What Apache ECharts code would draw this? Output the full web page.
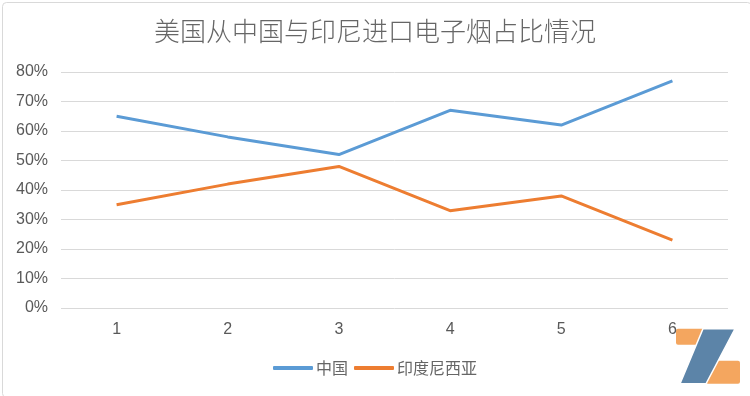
<!DOCTYPE html>
<html><head><meta charset="utf-8">
<script src="https://cdn.jsdelivr.net/npm/echarts@6/dist/echarts.min.js"></script>
<style>html,body{margin:0;padding:0;background:#fff}#c{width:750px;height:396px}</style>
</head><body><div id="c"></div>
<script>
var categories = ['1','2','3','4','5','6'];
var chinaValues = [65, 58, 52, 67, 62, 77];
var indonesiaValues = [35, 42, 48, 33, 38, 23];
var seriesNames = ['中国', '印度尼西亚'];
var titleText = '美国从中国与印尼进口电子烟占比情况';

var chart = echarts.init(document.getElementById('c'));
var font = '"Noto Sans CJK SC", "Helvetica", "Liberation Sans", sans-serif';
var numFont = '"Liberation Sans", Helvetica, Arial, sans-serif';
chart.setOption({
  backgroundColor: '#fff',
  animation: false,
  title: {
    text: titleText, left: 'center', top: 13,
    textStyle: {fontSize: 26, fontWeight: 300, color: '#666666', fontFamily: font}
  },
  legend: {
    bottom: 15, left: 'center', itemWidth: 40, itemHeight: 4, itemGap: 6,
    icon: 'roundRect',
    textStyle: {fontSize: 16, color: '#666666', fontFamily: font, padding: [0, 0, 0, -2]},
    data: seriesNames
  },
  grid: {left: 61, right: 22, top: 72, bottom: 88},
  xAxis: {
    type: 'category', data: categories, boundaryGap: true,
    axisLine: {show: false}, axisTick: {show: false},
    axisLabel: {fontSize: 16, color: '#595959', margin: 14, fontFamily: numFont}
  },
  yAxis: {
    type: 'value', min: 0, max: 80, interval: 10,
    axisLine: {show: false}, axisTick: {show: false},
    axisLabel: {formatter: '{value}%', fontSize: 16, color: '#595959', margin: 13, fontFamily: numFont},
    splitLine: {lineStyle: {color: '#d9d9d9', width: 1}}
  },
  series: [
    {name: seriesNames[0], type: 'line', data: chinaValues, symbol: 'none',
     lineStyle: {width: 3, color: '#5B9BD5'}, itemStyle: {color: '#5B9BD5'}},
    {name: seriesNames[1], type: 'line', data: indonesiaValues, symbol: 'none',
     lineStyle: {width: 3, color: '#ED7D31'}, itemStyle: {color: '#ED7D31'}}
  ],
  graphic: [
    {type: 'rect', left: 0, top: 0, shape: {width: 749, height: 395, r: 4}, style: {fill: 'none', stroke: '#d9d9d9', lineWidth: 1}, silent: true, z: -1},
    {type: 'group', left: 676, top: 328, z: 100, children: [
      {type: 'rect', shape: {x: 0, y: 0, width: 29, height: 16, r: 2}, style: {fill: '#F4A65F'}},
      {type: 'rect', shape: {x: 30, y: 32, width: 34, height: 23, r: 2}, style: {fill: '#F4A65F'}},
      {type: 'polygon', shape: {points: [[27,0],[59,0],[30,55],[4,55]]}, style: {fill: '#5C84A8', stroke: '#fff', lineWidth: 1.5}}
    ]}
  ]
});
</script></body></html>
